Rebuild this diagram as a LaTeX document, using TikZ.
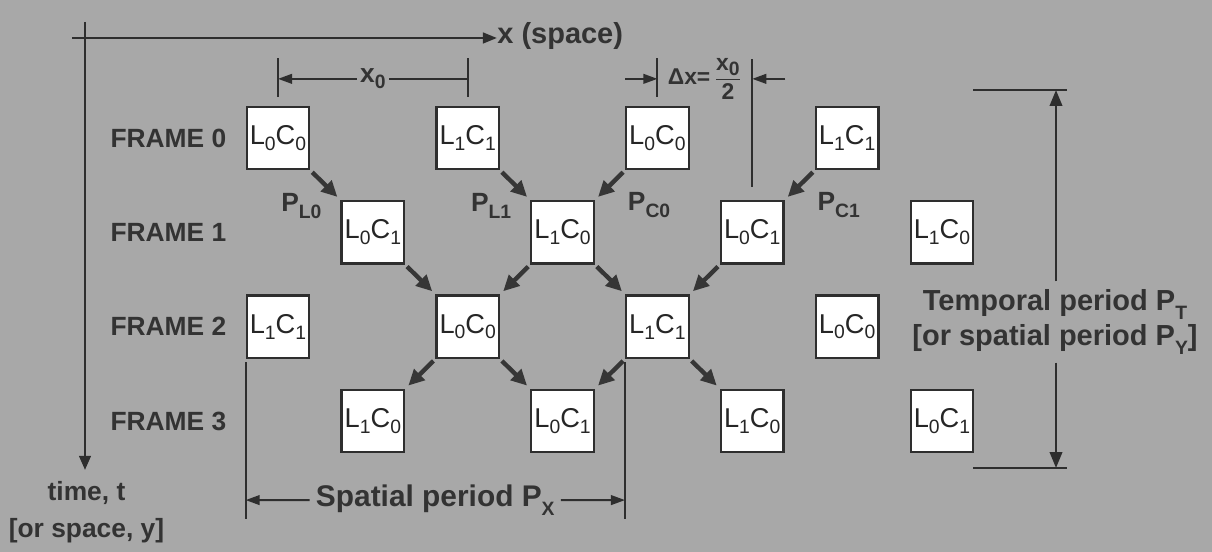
\documentclass[tikz,border=0pt]{standalone}
\usepackage{fontspec}
\setmainfont{Liberation Sans}
\usetikzlibrary{arrows.meta,positioning,calc}
\definecolor{scanBg}{HTML}{A8A8A8}
\definecolor{scanInk}{HTML}{2E2E2E}
\definecolor{scanText}{HTML}{333333}
\definecolor{scanArrow}{HTML}{363636}
\newcommand{\lsub}[1]{\raisebox{-0.4ex}{\fontsize{11}{11}\selectfont #1}}
\newcommand{\lc}[2]{L\lsub{#1}C\lsub{#2}}
\newcommand{\psub}[1]{\raisebox{-0.55ex}{\fontsize{11}{11}\selectfont\bfseries #1}}

\begin{document}
\begin{tikzpicture}[font=\bfseries\fontsize{15}{18}\selectfont,node distance=1.887cm and 1.897cm,on grid]
    \tikzset{cell/.style={draw=scanInk,line width=1.3pt,fill=white,minimum size=1.25cm,inner sep=0pt,text=black!85,font=\mdseries\fontsize{15.5}{18}\selectfont},
      rowlbl/.style={text=scanText,inner sep=0pt},
      lbl/.style={text=scanText,inner sep=0.12cm},
      plbl/.style={text=scanText,inner sep=1pt},
      parr/.style={-{Triangle[length=9pt,width=8.5pt]},line width=2.5pt,scanArrow,shorten <=1.5pt,shorten >=2.5pt},
      axis/.style={line width=1.5pt,scanInk},
      dim/.style={line width=1.1pt,scanInk,-{Triangle[length=8pt,width=5.5pt]}},
      tick/.style={line width=1.1pt,scanInk}}
    \fill[scanBg] (0,0) rectangle (24.24,-11.04);
    % cells, frame by frame
    \node[cell] (r0a) at (5.56,-2.76) {\lc00};
    \node[cell,right=3.794cm of r0a] (r0b) {\lc11};
    \node[cell,right=3.794cm of r0b] (r0c) {\lc00};
    \node[cell,right=3.794cm of r0c] (r0d) {\lc11};
    \node[cell,below right=of r0a] (r1a) {\lc01};
    \node[cell,right=3.794cm of r1a] (r1b) {\lc10};
    \node[cell,right=3.794cm of r1b] (r1c) {\lc01};
    \node[cell,right=3.794cm of r1c] (r1d) {\lc10};
    \node[cell,below left=of r1a] (r2a) {\lc11};
    \node[cell,right=3.794cm of r2a] (r2b) {\lc00};
    \node[cell,right=3.794cm of r2b] (r2c) {\lc11};
    \node[cell,right=3.794cm of r2c] (r2d) {\lc00};
    \node[cell,below right=of r2a] (r3a) {\lc10};
    \node[cell,right=3.794cm of r3a] (r3b) {\lc01};
    \node[cell,right=3.794cm of r3b] (r3c) {\lc10};
    \node[cell,right=3.794cm of r3c] (r3d) {\lc01};
    \node[rowlbl,anchor=east] (fr0) at ($(r0a.west)+(-0.38,0)$) {FRAME 0};
    \node[rowlbl,anchor=east] (fr1) at (fr0.east |- r1a) {FRAME 1};
    \node[rowlbl,anchor=east] (fr2) at (fr0.east |- r2a) {FRAME 2};
    \node[rowlbl,anchor=east] (fr3) at (fr0.east |- r3a) {FRAME 3};
    % predictions
    \draw[parr] (r0a.south east) -- (r1a.north west) node[plbl,midway,anchor=north east,yshift=-0.08cm] {P\psub{L0}};
    \draw[parr] (r0b.south east) -- (r1b.north west) node[plbl,midway,anchor=north east,yshift=-0.08cm] {P\psub{L1}};
    \draw[parr] (r0c.south west) -- (r1b.north east) node[plbl,midway,anchor=north west,xshift=0.28cm,yshift=-0.06cm] {P\psub{C0}};
    \draw[parr] (r0d.south west) -- (r1c.north east) node[plbl,midway,anchor=north west,xshift=0.28cm,yshift=-0.06cm] {P\psub{C1}};
    \draw[parr] (r1a.south east) -- (r2b.north west);
    \draw[parr] (r1b.south west) -- (r2b.north east);
    \draw[parr] (r1b.south east) -- (r2c.north west);
    \draw[parr] (r1c.south west) -- (r2c.north east);
    \draw[parr] (r2b.south west) -- (r3a.north east);
    \draw[parr] (r2b.south east) -- (r3b.north west);
    \draw[parr] (r2c.south west) -- (r3b.north east);
    \draw[parr] (r2c.south east) -- (r3c.north west);
    % axes
    \coordinate (hstart) at (1.44,-0.76);
    \coordinate (vstart) at (1.70,-0.44);
    \coordinate (vend) at (1.70,-9.40);
    \node[text=scanText,anchor=west,inner sep=0pt,font=\bfseries\fontsize{16.5}{18}\selectfont] (xlbl) at (9.94,-0.72) {x (space)};
    \draw[axis,-{Triangle[length=8pt,width=6pt]}] (hstart) -- (hstart -| xlbl.west);
    \draw[axis,-{Triangle[length=8pt,width=6.5pt]}] (vstart) -- (vend);
    \node[text=scanText,align=center,anchor=north,inner sep=0pt,font=\bfseries\fontsize{15}{21}\selectfont] (tlbl) at (1.73,-9.62) {time, t\\{[}or space, y{]}};
    % x0
    \coordinate (x0l) at ($(r0a.north)+(0,0.535)$);
    \coordinate (x0r) at ($(r0b.north)+(0,0.535)$);
    \draw[tick] ($(x0l)+(0,-0.36)$) -- ($(x0l)+(0,0.42)$);
    \draw[tick] ($(x0r)+(0,-0.36)$) -- ($(x0r)+(0,0.42)$);
    \draw[dim,{Triangle[length=8pt,width=5.5pt]}-] (x0l) -- (x0r) node[midway,fill=scanBg,inner sep=2pt,text=scanText] {x\lsub0};
    % delta x
    \coordinate (dxl) at ($(r0c.north)+(0,0.535)$);
    \coordinate (dxr) at (r1c.north |- dxl);
    \coordinate (dxla) at ($(dxl)+(-0.64,0)$);
    \coordinate (dxra) at ($(dxr)+(0.66,0)$);
    \draw[tick] ($(dxl)+(0,-0.36)$) -- ($(dxl)+(0,0.42)$);
    \draw[tick] ($(r1c.north)+(0,0.26)$) -- ($(dxr)+(0,0.40)$);
    \draw[dim] (dxla) -- (dxl);
    \draw[dim] (dxra) -- (dxr);
    \node[text=scanText,inner sep=0pt,font=\bfseries\fontsize{13}{15}\selectfont] (dxlbl) at ($(dxl)!0.5!(dxr)$) {Δx=\,$\displaystyle\frac{\hbox{x\lsub0}}{\hbox{2}}$};
    % spatial period
    \coordinate (sxl) at ($(r2a.south west)+(0,-2.82)$);
    \coordinate (sxr) at (r2c.south west |- sxl);
    \draw[tick] ($(r2a.south west)+(0,-0.06)$) -- ($(sxl)+(0,-0.38)$);
    \draw[tick] ($(r2c.south west)+(0,-0.06)$) -- ($(sxr)+(0,-0.38)$);
    \node[lbl,font=\bfseries\fontsize{17}{18}\selectfont] (spx) at ($(sxl)!0.5!(sxr)$) {Spatial period P\psub{X}};
    \draw[dim] (spx.west) -- (sxl);
    \draw[dim] (spx.east) -- (sxr);
    % temporal period
    \coordinate (ttop) at (21.12,-1.80);
    \coordinate (tbot) at (21.12,-9.36);
    \draw[tick] ($(ttop)+(-1.66,0)$) -- ($(ttop)+(0.22,0)$);
    \draw[tick] ($(tbot)+(-1.66,0)$) -- ($(tbot)+(0.22,0)$);
    \node[lbl,align=center,inner sep=0.16cm,font=\bfseries\fontsize{16.5}{20}\selectfont] (tp) at (21.10,-6.44) {Temporal period P\psub{T}\\{[}or spatial period P\psub{Y}{]}};
    \draw[dim,line width=1.4pt,-{Triangle[length=9pt,width=7pt]}] (ttop |- tp.north) -- (ttop);
    \draw[dim,line width=1.4pt,-{Triangle[length=9pt,width=7pt]}] (tbot |- tp.south) -- (tbot);
  \end{tikzpicture}
\end{document}
